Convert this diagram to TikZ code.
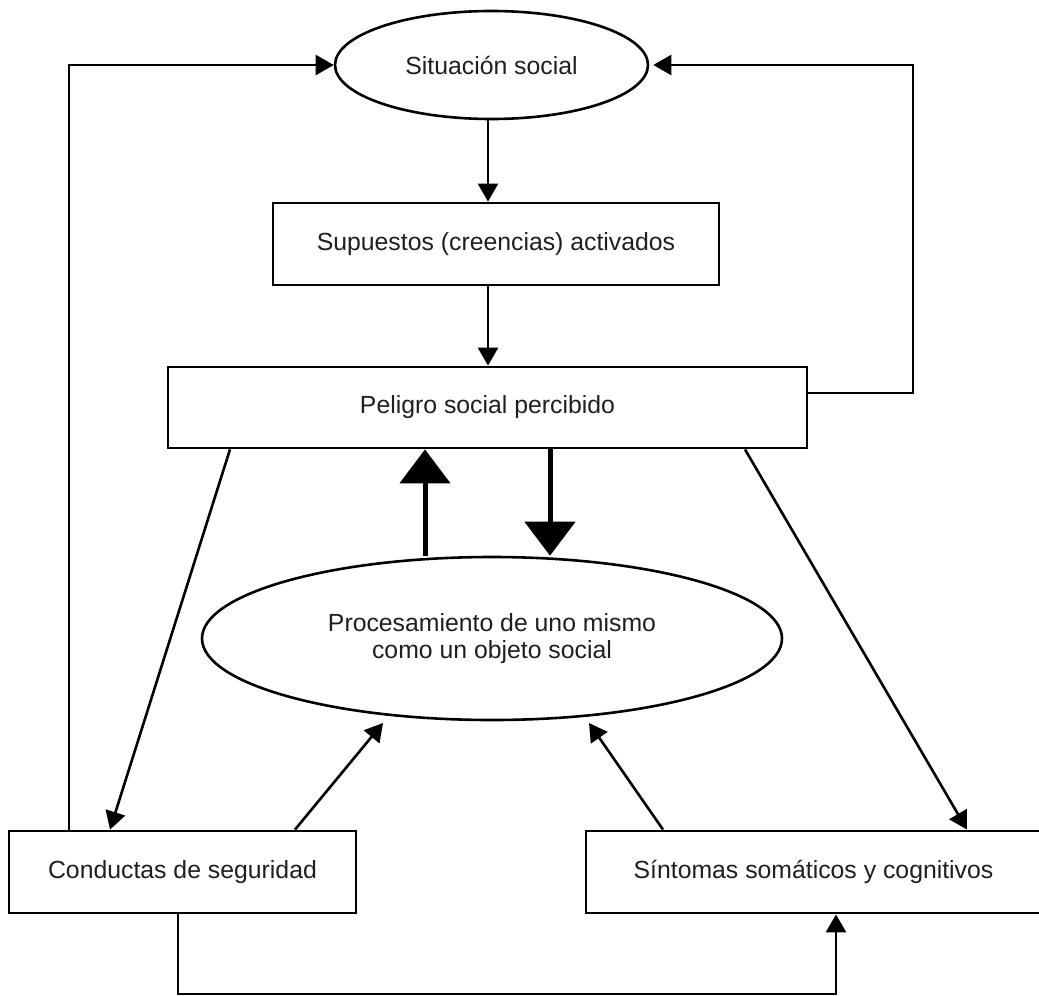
\documentclass[tikz,border=0pt]{standalone}
\usepackage{fontspec}
\setmainfont{Liberation Sans}
\usetikzlibrary{shapes.geometric,arrows.meta,calc}
\begin{document}
\begin{tikzpicture}[x=1pt,y=-1pt,
  every node/.style={font=\fontsize{24.8}{27}\selectfont, text=black!88},
  boxnode/.style={draw, line width=2.8pt, rectangle, inner sep=0pt, align=center},
  ellnode/.style={draw, line width=2.6pt, ellipse, inner sep=0pt, align=center},
  arr/.style={line width=2.6pt, -{Triangle[length=18pt,width=20pt]}},
  bigarr/.style={line width=5pt, -{Triangle[length=34pt,width=50pt]}}
]
\useasboundingbox[fill=white] (0,0) rectangle (1039,996);

% nodes
\node[ellnode, minimum width=313pt, minimum height=108pt] (sit) at (491.5,65) {Situación social};
\node[boxnode, minimum width=446pt, minimum height=82pt] (sup) at (496,244) {Supuestos (creencias) activados};
\node[boxnode, minimum width=639pt, minimum height=81pt] (pel) at (487.5,407.5) {Peligro social percibido};
\node[ellnode, minimum width=580pt, minimum height=163pt] (proc) at (492,638.5) {Procesamiento de uno mismo\\como un objeto social};
\node[boxnode, minimum width=347pt, minimum height=82pt] (cond) at (182.5,872) {Conductas de seguridad};
\node[boxnode, minimum width=455pt, minimum height=82pt] (sin) at (813.5,872) {Síntomas somáticos y cognitivos};

% helper coordinates
\coordinate (lturn) at (69,65);
\coordinate (rturn) at (913,65);
\coordinate (bturn) at (178,994);
\coordinate (ua) at (425,0);
\coordinate (da) at (550,0);
\coordinate (mid) at (488,0);

% connectors
\draw[arr] (sit.south -| mid) -- (sup.north -| mid);
\draw[arr] (sup.south -| mid) -- (pel.north -| mid);
\draw[arr, shorten >=4pt] ([yshift=14.5pt]pel.east) -| (rturn) -- (sit.east);
\draw[arr] (cond.north -| lturn) -- (lturn) -- (sit.west);
\draw[arr] ([xshift=-257.5pt]pel.south) -- ([xshift=-72.5pt]cond.north);
\draw[arr] ([xshift=257.5pt]pel.south) -- ([xshift=153.5pt]sin.north);
\draw[arr] ([xshift=112.5pt]cond.north) -- ([shift={(-109pt,-84.5pt)}]proc.center);
\draw[arr] ([xshift=-150.5pt]sin.north) -- ([shift={(97pt,-84.5pt)}]proc.center);
\draw[arr] ([xshift=-4.5pt]cond.south) -- (bturn) -| ([xshift=22.5pt]sin.south);
\draw[bigarr] (proc.north -| ua) -- (pel.south -| ua);
\draw[bigarr] (pel.south -| da) -- (proc.north -| da);
\end{tikzpicture}
\end{document}
